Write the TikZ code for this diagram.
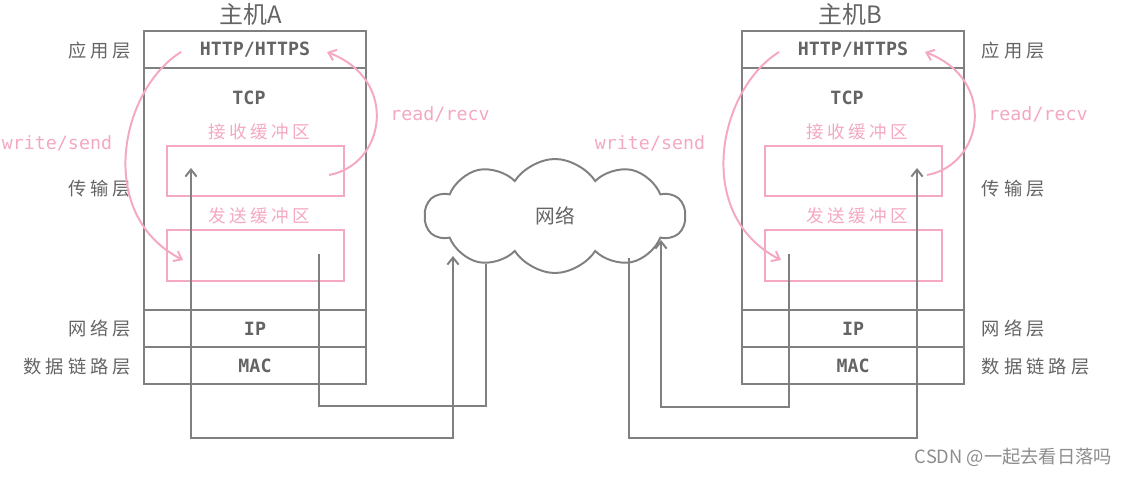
\documentclass[tikz,border=0pt]{standalone}
\usepackage{fontspec}
\usetikzlibrary{shapes.symbols,arrows.meta}

\newfontfamily\cjk{Noto Sans CJK SC}
\newfontfamily\cjkwide[LetterSpace=22]{Noto Sans CJK SC}
\newfontfamily\cjkmid[LetterSpace=20]{Noto Sans CJK SC}
\newfontfamily\mono{DejaVu Sans Mono}

\definecolor{linegray}{RGB}{128,128,128}
\definecolor{textgray}{RGB}{100,100,100}
\definecolor{callpink}{RGB}{244,168,194}

\tikzset{
  layerbox/.style={draw=linegray, line width=1.4pt, minimum width=5.55cm, inner sep=0pt,
    font=\mono\bfseries\fontsize{13}{15}\selectfont, text=textgray},
  bufbox/.style={draw=callpink, line width=1.4pt, minimum width=4.425cm, inner sep=0pt},
  buflbl/.style={font=\cjkmid\fontsize{12.5}{14}\selectfont, text=callpink},
  sidelbl/.style={font=\cjkwide\fontsize{13}{15}\selectfont, text=textgray},
  hostlbl/.style={font=\cjk\fontsize{17}{19}\selectfont, text=textgray},
  calllbl/.style={font=\mono\fontsize{13}{15}\selectfont, text=callpink},
  wire/.style={draw=linegray, line width=1.4pt, -{Straight Barb[length=5pt,width=8pt]}},
  callarc/.style={draw=callpink, line width=1.4pt, -{Straight Barb[length=5pt,width=8pt]}}
}

\begin{document}
\begin{tikzpicture}[x=0.025cm, y=-0.025cm]
\useasboundingbox (0,0) rectangle (1132,476);

% host A
\node[hostlbl] (hostA) at (251,14) {主机A};
\node[layerbox, minimum height=0.925cm] (httpA) at (255,49.5) {HTTP/HTTPS};
\node[layerbox, minimum height=6.05cm] (tcpA) at (255,189) {};
\node[layerbox, minimum height=0.925cm] (ipA) at (255,328.5) {IP};
\node[layerbox, minimum height=0.925cm] (macA) at (255,365.5) {MAC};
\node[layerbox, draw=none] (tcpnameA) at (249,98) {TCP};
% buffers A
\node[buflbl] (recvlblA) at (259,132) {接收缓冲区};
\node[bufbox, minimum height=1.25cm] (recvA) at (255.5,171) {};
\node[buflbl] (sendlblA) at (259,216) {发送缓冲区};
\node[bufbox, minimum height=1.275cm] (sendA) at (255.5,255.5) {};
% layer names A
\node[sidelbl, anchor=east] (appA) at (136,51) {应用层};
\node[sidelbl, anchor=east] (transA) at (136,189) {传输层};
\node[sidelbl, anchor=east] (netA) at (136,329) {网络层};
\node[sidelbl, anchor=east] (linkA) at (136,367) {数据链路层};

% host B
\node[hostlbl] (hostB) at (850,14) {主机B};
\node[layerbox, minimum height=0.925cm] (httpB) at (853,49.5) {HTTP/HTTPS};
\node[layerbox, minimum height=6.05cm] (tcpB) at (853,189) {};
\node[layerbox, minimum height=0.925cm] (ipB) at (853,328.5) {IP};
\node[layerbox, minimum height=0.925cm] (macB) at (853,365.5) {MAC};
\node[layerbox, draw=none] (tcpnameB) at (847,98) {TCP};
% buffers B
\node[buflbl] (recvlblB) at (857,132) {接收缓冲区};
\node[bufbox, minimum height=1.25cm] (recvB) at (853.5,171) {};
\node[buflbl] (sendlblB) at (857,216) {发送缓冲区};
\node[bufbox, minimum height=1.275cm] (sendB) at (853.5,255.5) {};
% layer names B
\node[sidelbl, anchor=west] (appB) at (977,51) {应用层};
\node[sidelbl, anchor=west] (transB) at (977,189) {传输层};
\node[sidelbl, anchor=west] (netB) at (977,329) {网络层};
\node[sidelbl, anchor=west] (linkB) at (977,367) {数据链路层};

% network
\node[cloud, cloud puffs=10, cloud puff arc=115, cloud ignores aspect, draw=linegray,
      line width=1.4pt, minimum width=6.5cm, minimum height=2.85cm,
      font=\cjk\fontsize{14}{16}\selectfont, text=textgray] (net) at (555,216) {网络};

% wires A
\coordinate (upA) at (191,168);
\coordinate (inA) at (453,256);
\coordinate (outA) at (319,254);
\coordinate (leaveA) at (486,264);
\draw[wire, {Straight Barb[length=5pt,width=8pt]}-{Straight Barb[length=5pt,width=8pt]}]
  (upA) -- ++(0,270) -| (inA);
\draw[wire, -] (outA) -- ++(0,152) -| (leaveA);

% wires B
\coordinate (upB) at (917,168);
\coordinate (inB) at (661,240);
\coordinate (outB) at (789,254);
\coordinate (leaveB) at (629,258);
\draw[wire] (outB) -- ++(0,153) -| (inB);
\draw[wire] (leaveB) -- ++(0,180) -| (upB);

% calls A
\coordinate (wsA1) at (181,52);
\coordinate (wsA2) at (183,260);
\coordinate (rrA1) at (329,175);
\coordinate (rrA2) at (327,52);
\draw[callarc] (wsA1) .. controls (120,90) and (95,215) .. (wsA2);
\draw[callarc] (rrA1) .. controls (385,165) and (400,80) .. (rrA2);
\node[calllbl] (wslblA) at (57,143) {write/send};
\node[calllbl] (rrlblA) at (440,114) {read/recv};

% calls B
\coordinate (wsB1) at (779,52);
\coordinate (wsB2) at (781,260);
\coordinate (rrB1) at (927,175);
\coordinate (rrB2) at (925,52);
\draw[callarc] (wsB1) .. controls (718,90) and (693,215) .. (wsB2);
\draw[callarc] (rrB1) .. controls (983,165) and (998,80) .. (rrB2);
\node[calllbl] (wslblB) at (650,143) {write/send};
\node[calllbl] (rrlblB) at (1038,114) {read/recv};

% mark
\node[font=\cjk\fontsize{13}{15}\selectfont, text=black!45, anchor=east] (mark) at (1117,457) {CSDN @一起去看日落吗};

\end{tikzpicture}
\end{document}
